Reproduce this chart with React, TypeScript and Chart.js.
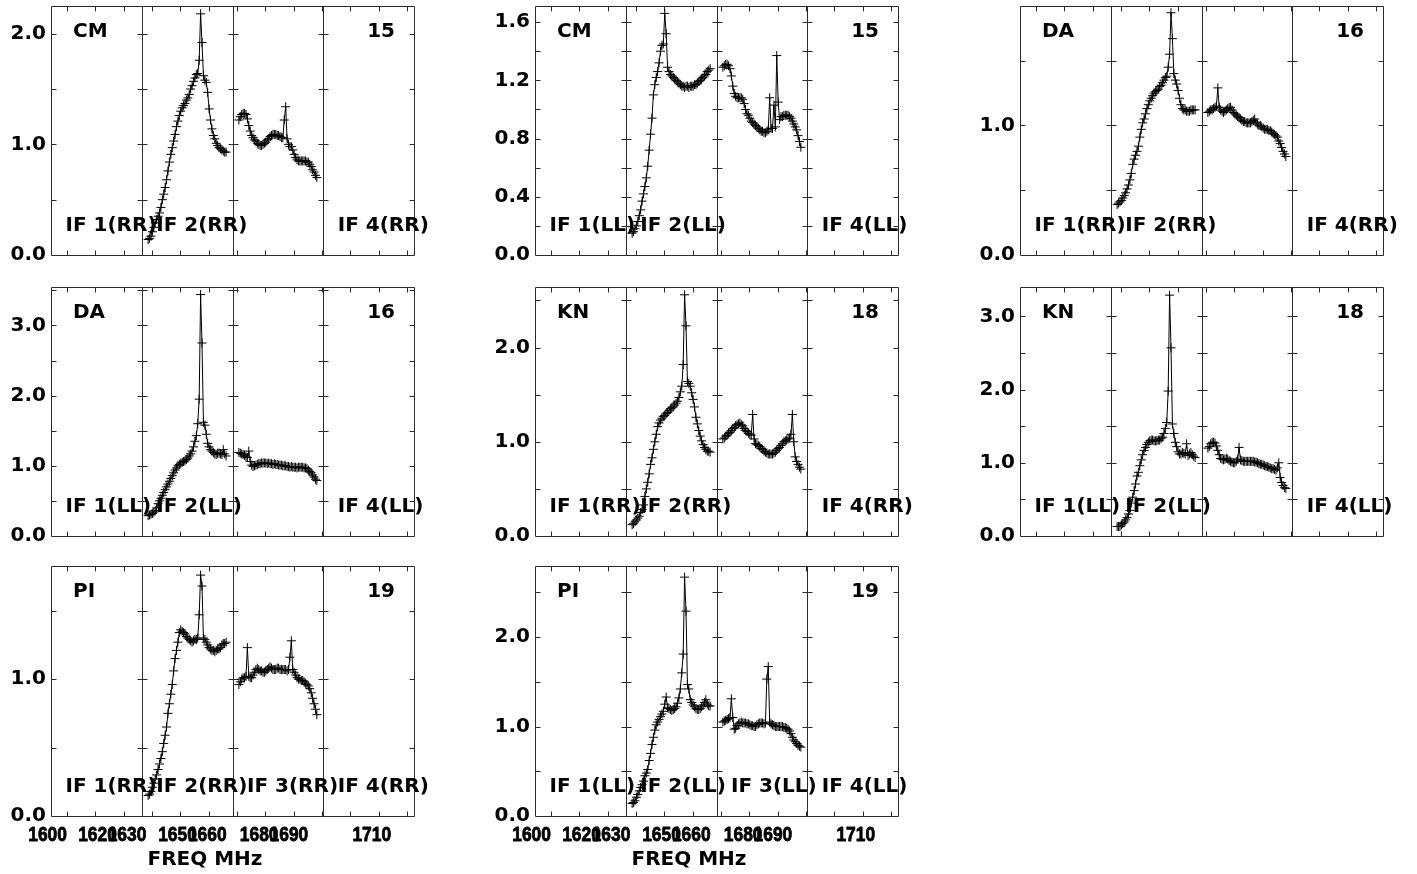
import React, { useEffect, useRef } from 'react';
import { Chart, registerables } from 'chart.js';

Chart.register(...registerables);

// ---------- axis definition (frequency, MHz) ----------
const IF_START_MHZ = [1594.4, 1626.4, 1658.4, 1690.4];
const X_MIN_MHZ = 1594.4;
const X_MAX_MHZ = 1722.4;
const CHAN_WIDTH_MHZ = 0.5;
const FIRST_CHAN = 4;
const X_TICK_MARKS_MHZ = [1600, 1610, 1620, 1630, 1640, 1650, 1660, 1670, 1680, 1690, 1700, 1710, 1720];
const X_LABELS = ['1600', '1620', '1630', '1650', '1660', '1680', '1690', '1710'];
const X_LABEL_POS_MHZ = [1593.2, 1610.8, 1621.2, 1639.0, 1649.5, 1667.8, 1678.3, 1707.5];
const X_TITLE = 'FREQ MHz';

// ---------- data: amplitude per channel (IF 2 and IF 3) ----------
const CM_RR_IF2 = [0.14,0.15,0.17,0.21,0.25,0.29,0.32,0.35,0.38,0.43,0.50,0.55,0.61,0.68,0.76,0.84,0.91,0.97,1.03,1.09,1.16,1.21,1.26,1.30,1.33,1.35,1.37,1.40,1.42,1.45,1.50,1.53,1.57,1.60,1.63,1.64,1.76,2.18,1.92,1.62,1.58,1.56,1.47,1.32,1.22,1.14,1.08,1.05,1.01,0.99,0.97,0.96,0.95,0.94,0.93,0.93];
const CM_RR_IF3 = [1.22,1.25,1.27,1.28,1.28,1.27,1.23,1.17,1.12,1.08,1.06,1.04,1.03,1.01,1.00,0.99,0.99,1.00,1.01,1.02,1.04,1.05,1.07,1.08,1.09,1.09,1.09,1.08,1.08,1.07,1.06,1.06,1.22,1.34,1.05,1.00,0.98,0.98,0.95,0.91,0.88,0.86,0.85,0.85,0.85,0.85,0.85,0.85,0.84,0.84,0.82,0.80,0.77,0.75,0.72,0.70];
const CM_LL_IF2 = [0.15,0.16,0.18,0.20,0.23,0.27,0.31,0.37,0.42,0.47,0.53,0.61,0.72,0.83,0.94,1.10,1.17,1.22,1.26,1.32,1.40,1.44,1.45,1.66,1.52,1.29,1.26,1.24,1.23,1.22,1.21,1.20,1.19,1.18,1.17,1.16,1.16,1.15,1.16,1.16,1.15,1.16,1.16,1.16,1.17,1.17,1.18,1.19,1.20,1.21,1.22,1.23,1.24,1.26,1.27,1.28];
const CM_LL_IF3 = [1.29,1.30,1.31,1.31,1.30,1.28,1.23,1.16,1.11,1.09,1.08,1.08,1.08,1.08,1.07,1.04,1.00,0.97,0.96,0.94,0.92,0.91,0.90,0.89,0.88,0.87,0.86,0.85,0.85,0.84,0.84,0.85,0.86,1.08,0.87,0.87,1.03,0.88,1.37,1.05,0.93,0.95,0.95,0.96,0.96,0.96,0.96,0.95,0.94,0.92,0.90,0.88,0.86,0.82,0.78,0.74];
const DA_RR_IF2 = [0.39,0.40,0.41,0.42,0.44,0.46,0.48,0.51,0.54,0.58,0.63,0.70,0.74,0.77,0.80,0.84,0.91,0.97,1.02,1.05,1.09,1.13,1.16,1.19,1.21,1.23,1.25,1.26,1.27,1.28,1.30,1.31,1.33,1.35,1.37,1.38,1.45,1.55,1.87,1.67,1.40,1.35,1.32,1.27,1.21,1.16,1.13,1.12,1.12,1.11,1.11,1.11,1.12,1.12,1.12,1.12];
const DA_RR_IF3 = [1.10,1.11,1.12,1.12,1.13,1.14,1.15,1.29,1.14,1.12,1.11,1.10,1.11,1.12,1.13,1.14,1.14,1.12,1.10,1.09,1.08,1.07,1.06,1.05,1.04,1.03,1.03,1.02,1.02,1.02,1.02,1.03,1.04,1.05,1.02,1.01,1.00,1.00,0.99,0.98,0.97,0.97,0.97,0.96,0.96,0.95,0.94,0.93,0.92,0.91,0.88,0.86,0.83,0.80,0.78,0.76];
const DA_LL_IF2 = [0.29,0.30,0.31,0.32,0.34,0.36,0.40,0.46,0.50,0.54,0.58,0.62,0.66,0.70,0.74,0.78,0.82,0.86,0.90,0.94,0.97,1.00,1.02,1.04,1.05,1.06,1.07,1.09,1.11,1.14,1.17,1.21,1.27,1.35,1.43,1.60,1.95,3.44,2.75,1.62,1.58,1.45,1.32,1.27,1.23,1.21,1.19,1.17,1.16,1.18,1.18,1.17,1.16,1.23,1.17,1.14];
const DA_LL_IF3 = [1.19,1.18,1.17,1.16,1.15,1.13,1.12,1.21,1.06,1.01,0.99,1.00,1.01,1.02,1.03,1.03,1.04,1.04,1.04,1.04,1.03,1.04,1.03,1.03,1.02,1.03,1.02,1.02,1.01,1.01,1.01,1.00,1.00,1.00,0.99,0.99,0.98,0.99,0.98,0.98,0.98,0.97,0.98,0.98,0.98,0.98,0.97,0.97,0.96,0.94,0.92,0.90,0.87,0.84,0.81,0.79];
const KN_RR_IF2 = [0.12,0.13,0.15,0.17,0.19,0.21,0.25,0.28,0.33,0.42,0.50,0.57,0.66,0.76,0.83,0.92,1.00,1.08,1.16,1.20,1.23,1.25,1.27,1.28,1.30,1.31,1.33,1.35,1.36,1.37,1.39,1.41,1.43,1.47,1.53,1.59,1.82,2.56,2.23,1.64,1.62,1.59,1.52,1.45,1.37,1.26,1.19,1.12,1.06,1.01,0.97,0.94,0.92,0.90,0.90,0.89];
const KN_RR_IF3 = [1.03,1.04,1.06,1.07,1.09,1.10,1.12,1.14,1.15,1.17,1.18,1.19,1.20,1.18,1.17,1.14,1.12,1.11,1.09,1.08,1.07,1.29,1.03,0.98,0.97,0.96,0.95,0.93,0.92,0.90,0.89,0.88,0.87,0.87,0.87,0.87,0.88,0.89,0.91,0.93,0.94,0.96,0.98,1.00,1.01,1.02,1.03,1.04,1.08,1.29,1.00,0.84,0.79,0.76,0.73,0.71];
const KN_LL_IF2 = [0.13,0.13,0.13,0.15,0.17,0.19,0.22,0.25,0.30,0.35,0.45,0.53,0.62,0.71,0.82,0.87,0.96,1.04,1.11,1.17,1.21,1.25,1.28,1.30,1.31,1.31,1.30,1.30,1.30,1.31,1.31,1.33,1.35,1.40,1.47,1.55,1.98,3.29,2.57,1.53,1.40,1.28,1.22,1.15,1.12,1.12,1.14,1.13,1.12,1.26,1.10,1.12,1.14,1.11,1.09,1.07];
const KN_LL_IF3 = [1.20,1.22,1.26,1.28,1.28,1.27,1.23,1.17,1.11,1.06,1.05,1.04,1.05,1.06,1.05,1.03,1.02,1.01,1.00,1.00,1.02,1.05,1.21,1.04,1.03,1.02,1.02,1.02,1.02,1.02,1.02,1.02,1.02,1.01,1.01,1.00,0.99,0.98,0.98,0.97,0.96,0.95,0.95,0.94,0.93,0.92,0.92,0.91,0.90,0.93,1.00,0.80,0.73,0.69,0.66,0.65];
const PI_RR_IF2 = [0.15,0.16,0.18,0.21,0.24,0.27,0.30,0.34,0.38,0.42,0.47,0.53,0.59,0.65,0.75,0.82,0.89,0.96,1.06,1.15,1.21,1.27,1.34,1.36,1.35,1.34,1.33,1.31,1.30,1.29,1.28,1.27,1.28,1.29,1.29,1.30,1.47,1.76,1.68,1.30,1.29,1.27,1.25,1.23,1.22,1.21,1.21,1.20,1.21,1.22,1.22,1.23,1.25,1.26,1.26,1.27];
const PI_RR_IF3 = [0.96,0.98,1.00,1.01,1.01,1.02,1.23,1.02,1.01,1.01,1.03,1.05,1.07,1.08,1.07,1.06,1.06,1.05,1.05,1.06,1.07,1.08,1.09,1.08,1.07,1.07,1.07,1.08,1.08,1.07,1.07,1.07,1.07,1.07,1.06,1.07,1.16,1.28,1.07,1.05,1.03,1.01,1.00,1.00,0.99,0.99,0.98,0.97,0.96,0.95,0.93,0.90,0.86,0.82,0.78,0.74];
const PI_LL_IF2 = [0.14,0.15,0.17,0.21,0.24,0.28,0.32,0.35,0.39,0.45,0.48,0.52,0.62,0.70,0.80,0.88,0.96,1.02,1.05,1.08,1.11,1.14,1.17,1.25,1.33,1.21,1.20,1.19,1.18,1.19,1.20,1.22,1.26,1.32,1.42,1.60,1.81,2.67,2.29,1.47,1.42,1.30,1.27,1.24,1.22,1.20,1.19,1.19,1.20,1.22,1.24,1.27,1.30,1.25,1.23,1.23];
const PI_LL_IF3 = [1.05,1.06,1.07,1.08,1.09,1.10,1.31,1.10,0.97,0.98,1.01,1.03,1.04,1.05,1.04,1.04,1.04,1.03,1.03,1.02,1.01,1.01,1.00,1.00,1.02,1.03,1.04,1.04,1.04,1.03,1.04,1.53,1.67,1.05,1.03,1.02,1.01,1.00,1.00,1.00,1.00,1.00,1.00,0.99,0.99,0.98,0.97,0.95,0.92,0.88,0.85,0.83,0.81,0.79,0.78,0.77];

// ---------- y tick labels ----------
const Y_LABELS_0_2 = [0, 1, 2];
const Y_LABELS_0_1 = [0, 1];
const Y_LABELS_0_3 = [0, 1, 2, 3];
const Y_LABELS_FINE = [0, 0.4, 0.8, 1.2, 1.6];

type PanelCfg = {
  ant: string;
  num: string;
  pol: string;
  if2: number[];
  if3: number[];
  yMax: number;
  yLabels: number[];
  yMinor: number;
  ifLabels: number[];
  col: number;
  row: number;
};

const PANELS: PanelCfg[] = [
  { ant: 'CM', num: '15', pol: 'RR', if2: CM_RR_IF2, if3: CM_RR_IF3, yMax: 2.255, yLabels: Y_LABELS_0_2, yMinor: 0.5, ifLabels: [1, 2, 4], col: 0, row: 0 },
  { ant: 'CM', num: '15', pol: 'LL', if2: CM_LL_IF2, if3: CM_LL_IF3, yMax: 1.714, yLabels: Y_LABELS_FINE, yMinor: 0.2, ifLabels: [1, 2, 4], col: 1, row: 0 },
  { ant: 'DA', num: '16', pol: 'RR', if2: DA_RR_IF2, if3: DA_RR_IF3, yMax: 1.926, yLabels: Y_LABELS_0_1, yMinor: 0.5, ifLabels: [1, 2, 4], col: 2, row: 0 },
  { ant: 'DA', num: '16', pol: 'LL', if2: DA_LL_IF2, if3: DA_LL_IF3, yMax: 3.555, yLabels: Y_LABELS_0_3, yMinor: 0.5, ifLabels: [1, 2, 4], col: 0, row: 1 },
  { ant: 'KN', num: '18', pol: 'RR', if2: KN_RR_IF2, if3: KN_RR_IF3, yMax: 2.648, yLabels: Y_LABELS_0_2, yMinor: 0.5, ifLabels: [1, 2, 4], col: 1, row: 1 },
  { ant: 'KN', num: '18', pol: 'LL', if2: KN_LL_IF2, if3: KN_LL_IF3, yMax: 3.408, yLabels: Y_LABELS_0_3, yMinor: 0.5, ifLabels: [1, 2, 4], col: 2, row: 1 },
  { ant: 'PI', num: '19', pol: 'RR', if2: PI_RR_IF2, if3: PI_RR_IF3, yMax: 1.83, yLabels: Y_LABELS_0_1, yMinor: 0.5, ifLabels: [1, 2, 3, 4], col: 0, row: 2 },
  { ant: 'PI', num: '19', pol: 'LL', if2: PI_LL_IF2, if3: PI_LL_IF3, yMax: 2.8, yLabels: Y_LABELS_0_2, yMinor: 0.5, ifLabels: [1, 2, 3, 4], col: 1, row: 2 },
];

// ---------- layout ----------
const CANVAS_LEFT = [0, 484, 969];
const CANVAS_TOP = [0, 281, 560];
const Y_AXIS_W = 51;
const PLOT_W = 363;
const PAD_RIGHT = 40;
const PAD_TOP = 4;
const PLOT_H = [251, 251, 252];
const PAD_BOTTOM = 20;
const X_AXIS_H = 58;

const LABEL_FONT = 'bold 20px "DejaVu Sans", sans-serif';
const X_TICK_FONT = 'bold 20px "Liberation Sans", Arial, sans-serif';
const X_TICK_SQUEEZE = 0.87;
const INK = '#000';
const FRAME = '#2b2b2b';

const chanFreq = (ifIdx: number, j: number) =>
  IF_START_MHZ[ifIdx] + (FIRST_CHAN + j + 0.5) * CHAN_WIDTH_MHZ;

const crisp = (v: number) => Math.round(v) + 0.5;

const possmPlugin = {
  id: 'possm',
  beforeDatasetsDraw(chart: any, _args: any, opts: any) {
    const { ctx, chartArea: a, scales } = chart;
    const x = scales.x;
    const y = scales.y;
    const L = crisp(a.left), R = crisp(a.right), T = crisp(a.top), B = crisp(a.bottom);
    ctx.save();
    ctx.strokeStyle = FRAME;
    ctx.lineWidth = 1;
    ctx.beginPath();
    ctx.rect(L, T, R - L, B - T);
    const dividers: number[] = [];
    for (let i = 1; i < IF_START_MHZ.length; i++) {
      const px = crisp(x.getPixelForValue(IF_START_MHZ[i]));
      dividers.push(px);
      ctx.moveTo(px, T);
      ctx.lineTo(px, B);
    }
    const tl = 5;
    for (const v of X_TICK_MARKS_MHZ) {
      const px = crisp(x.getPixelForValue(v));
      ctx.moveTo(px, B);
      ctx.lineTo(px, B - tl);
      ctx.moveTo(px, T);
      ctx.lineTo(px, T + tl);
    }
    const step = opts.yMinor as number;
    for (let k = 1; k * step < opts.yMax - 1e-6; k++) {
      const py = crisp(y.getPixelForValue(k * step));
      ctx.moveTo(L, py);
      ctx.lineTo(L + tl, py);
      ctx.moveTo(R, py);
      ctx.lineTo(R - tl, py);
      for (const d of dividers) {
        ctx.moveTo(d - tl, py);
        ctx.lineTo(d + tl, py);
      }
    }
    ctx.stroke();
    ctx.restore();
  },
  afterDraw(chart: any, _args: any, opts: any) {
    const { ctx, chartArea: a, scales } = chart;
    const x = scales.x;
    ctx.save();
    ctx.font = LABEL_FONT;
    ctx.fillStyle = INK;
    ctx.textBaseline = 'middle';
    ctx.textAlign = 'left';
    ctx.fillText(opts.ant, a.left + 22, a.top + 26);
    ctx.textAlign = 'right';
    ctx.fillText(opts.num, a.right - 19, a.top + 26);
    ctx.textAlign = 'left';
    for (const n of opts.ifLabels as number[]) {
      const px = x.getPixelForValue(IF_START_MHZ[n - 1]);
      ctx.fillText(`IF ${n}(${opts.pol})`, px + 14.5, a.bottom - 29);
    }
    if (opts.isBottom) {
      ctx.textAlign = 'center';
      ctx.fillText(X_TITLE, a.left + 154, a.bottom + 44);
      // frequency tick labels, placed through the x scale
      ctx.font = X_TICK_FONT;
      ctx.strokeStyle = INK;
      ctx.lineWidth = 0.8;
      ctx.lineJoin = 'round';
      for (const t of x.ticks as { value: number; label: string }[]) {
        const px = x.getPixelForValue(t.value);
        ctx.save();
        ctx.translate(px, a.bottom + 19.5);
        ctx.scale(X_TICK_SQUEEZE, 1);
        ctx.fillText(String(t.label), 0, 0);
        ctx.strokeText(String(t.label), 0, 0);
        ctx.restore();
      }
    }
    ctx.restore();
  },
};

function Panel({ cfg }: { cfg: PanelCfg }) {
  const ref = useRef<HTMLCanvasElement>(null);
  const isBottom = cfg.row === 2;
  const width = Y_AXIS_W + PLOT_W + PAD_RIGHT;
  const height = PAD_TOP + PLOT_H[cfg.row] + (isBottom ? X_AXIS_H : PAD_BOTTOM);

  useEffect(() => {
    if (!ref.current) return;
    const datasets = [cfg.if2, cfg.if3].map((vals, k) => ({
      data: vals.map((v, j) => ({ x: chanFreq(k + 1, j), y: v })),
      borderColor: '#000',
      borderWidth: 1,
      tension: 0,
      fill: false,
      pointStyle: 'cross' as const,
      pointRadius: 4.5,
      pointBorderColor: '#000',
      pointBorderWidth: 1,
      pointBackgroundColor: 'transparent',
    }));
    const chart = new Chart(ref.current, {
      type: 'line',
      data: { datasets },
      options: {
        animation: false,
        responsive: false,
        maintainAspectRatio: false,
        events: [],
        layout: {
          padding: { left: 0, right: PAD_RIGHT, top: PAD_TOP, bottom: isBottom ? 0 : PAD_BOTTOM },
        },
        plugins: {
          legend: { display: false },
          tooltip: { enabled: false },
          possm: { ...cfg, isBottom },
        } as any,
        scales: {
          x: {
            type: 'linear',
            min: X_MIN_MHZ,
            max: X_MAX_MHZ,
            border: { display: false },
            grid: { display: false, drawTicks: false },
            ticks: {
              display: false,
              autoSkip: false,
              maxRotation: 0,
              minRotation: 0,
              callback: (_v: any, i: number) => X_LABELS[i],
            },
            afterBuildTicks: (s: any) => {
              s.ticks = X_LABEL_POS_MHZ.map((v) => ({ value: v }));
            },
            afterFit: (s: any) => {
              s.height = isBottom ? X_AXIS_H : 0;
              s.paddingLeft = 0;
              s.paddingRight = 0;
            },
          },
          y: {
            type: 'linear',
            min: 0,
            max: cfg.yMax,
            border: { display: false },
            grid: { display: false, drawTicks: false },
            ticks: {
              autoSkip: false,
              padding: 5,
              color: INK,
              font: { family: '"DejaVu Sans", sans-serif', size: 20, weight: 'bold' },
              callback: (v: any) => Number(v).toFixed(1),
            },
            afterBuildTicks: (s: any) => {
              s.ticks = cfg.yLabels.map((v) => ({ value: v }));
            },
            afterFit: (s: any) => {
              s.width = Y_AXIS_W;
              s.paddingTop = 0;
              s.paddingBottom = 0;
            },
          },
        },
      } as any,
      plugins: [possmPlugin],
    });
    return () => chart.destroy();
  }, [cfg, isBottom]);

  return (
    <canvas
      ref={ref}
      width={width}
      height={height}
      style={{
        position: 'absolute',
        left: CANVAS_LEFT[cfg.col],
        top: CANVAS_TOP[cfg.row],
        width,
        height,
      }}
    />
  );
}

export default function App() {
  return (
    <div
      style={{
        position: 'absolute',
        left: 0,
        top: 0,
        width: 1417,
        height: 874,
        background: '#fff',
        overflow: 'hidden',
      }}
    >
      {PANELS.map((p, i) => (
        <Panel key={i} cfg={p} />
      ))}
    </div>
  );
}
